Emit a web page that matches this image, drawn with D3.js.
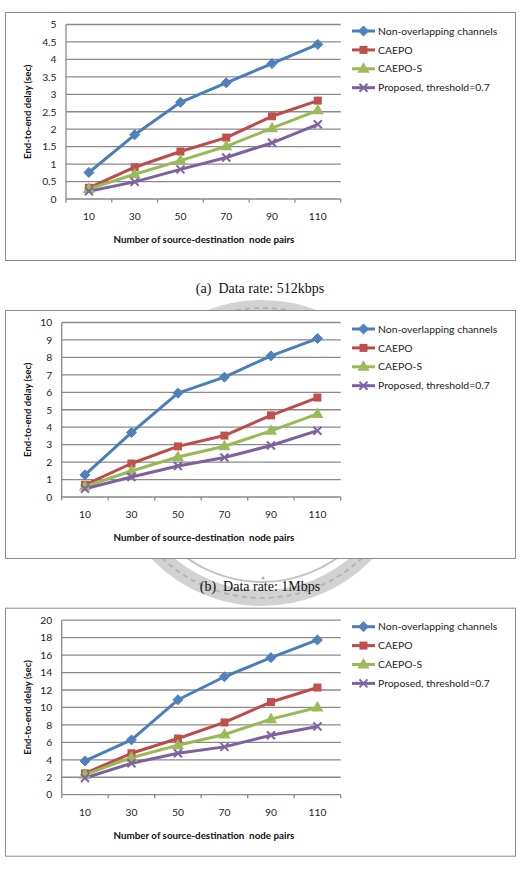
<!DOCTYPE html>
<html lang="en">
<head>
<meta charset="UTF-8">
<style>
  body { margin: 0; background: #fff; }
  svg text { font-family: Lato, "Liberation Sans", sans-serif; }
  .caption { font-family: "Liberation Serif", "DejaVu Serif", serif !important; }
</style>
<script src="https://d3js.org/d3.v7.min.js"></script>
<title>End-to-end delay</title>
</head>
<body>
<script>
// x categories: number of source-destination node pairs
const pairs = [10, 30, 50, 70, 90, 110];
const seriesNames = ["Non-overlapping channels", "CAEPO", "CAEPO-S", "Proposed, threshold=0.7"];

// (a) 512kbps
const nonOverlap512k = [0.76, 1.84, 2.77, 3.33, 3.88, 4.43];
const caepo512k      = [0.32, 0.91, 1.36, 1.76, 2.37, 2.82];
const caepoS512k     = [0.29, 0.71, 1.10, 1.51, 2.03, 2.54];
const proposed512k   = [0.22, 0.49, 0.85, 1.19, 1.61, 2.14];
const yTicks512k = [0, 0.5, 1, 1.5, 2, 2.5, 3, 3.5, 4, 4.5, 5];

// (b) 1Mbps
const nonOverlap1M = [1.27, 3.69, 5.95, 6.87, 8.09, 9.08];
const caepo1M      = [0.70, 1.92, 2.90, 3.52, 4.68, 5.70];
const caepoS1M     = [0.60, 1.49, 2.29, 2.91, 3.79, 4.76];
const proposed1M   = [0.47, 1.15, 1.78, 2.26, 2.95, 3.80];
const yTicks1M = [0, 1, 2, 3, 4, 5, 6, 7, 8, 9, 10];

// (c) highest rate
const nonOverlapC = [3.87, 6.28, 10.88, 13.52, 15.71, 17.74];
const caepoC      = [2.45, 4.75, 6.44, 8.28, 10.62, 12.28];
const caepoSC     = [2.30, 4.25, 5.67, 6.90, 8.66, 10.00];
const proposedC   = [1.92, 3.60, 4.75, 5.48, 6.82, 7.82];
const yTicksC = [0, 2, 4, 6, 8, 10, 12, 14, 16, 18, 20];

const colors = ["#4a7ebb", "#be4b48", "#98b954", "#7d60a0"];
const markerColors = ["#4f81bd", "#c0504d", "#9bbb59", "#8064a2"];

const panels = [
  { top: 12, left: 66, ticks: yTicks512k, max: 5, caption: "(a)  Data rate: 512kbps", captionY: 293,
    series: [nonOverlap512k, caepo512k, caepoS512k, proposed512k] },
  { top: 310, left: 61.7, ticks: yTicks1M, max: 10, caption: "(b)  Data rate: 1Mbps", captionY: 591,
    series: [nonOverlap1M, caepo1M, caepoS1M, proposed1M] },
  { top: 607.7, left: 61.7, ticks: yTicksC, max: 20, caption: null,
    series: [nonOverlapC, caepoC, caepoSC, proposedC] }
];

const W = 525, H = 873;
const svg = d3.select("body").append("svg")
  .attr("width", W).attr("height", H);

svg.append("rect").attr("width", W).attr("height", H).attr("fill", "#fff");

// faint university seal watermark behind panel (b) caption
const seal = svg.append("g").attr("opacity", 0.75);
seal.append("circle").attr("cx", 262).attr("cy", 453).attr("r", 145)
  .attr("fill", "none").attr("stroke", "#c4c4c4").attr("stroke-width", 16);
seal.append("circle").attr("cx", 262).attr("cy", 453).attr("r", 145)
  .attr("fill", "none").attr("stroke", "#9a9a9a").attr("stroke-width", 2)
  .attr("stroke-dasharray", "5 4");
seal.append("circle").attr("cx", 262).attr("cy", 453).attr("r", 129)
  .attr("fill", "none").attr("stroke", "#b0b0b0").attr("stroke-width", 2);
seal.append("circle").attr("cx", 263).attr("cy", 578).attr("r", 1.5).attr("fill", "#999");

function marker(g, i, cx, cy) {
  const c = markerColors[i];
  if (i === 0) {
    g.append("path").attr("d", d3.symbol(d3.symbolDiamond2, 64)())
      .attr("transform", `translate(${cx},${cy})`).attr("fill", c).attr("stroke", c).attr("stroke-width", 1);
  } else if (i === 1) {
    g.append("path").attr("d", d3.symbol(d3.symbolSquare, 64)())
      .attr("transform", `translate(${cx},${cy})`).attr("fill", c);
  } else if (i === 2) {
    g.append("path").attr("d", d3.symbol(d3.symbolTriangle, 64)())
      .attr("transform", `translate(${cx},${cy + 0.5})`).attr("fill", c);
  } else {
    g.append("path").attr("d", "M-4,-4L4,4M-4,4L4,-4")
      .attr("transform", `translate(${cx},${cy})`).attr("stroke", c).attr("stroke-width", 2).attr("fill", "none");
  }
}

panels.forEach(p => {
  const g = svg.append("g");
  const frameH = 248;
  g.append("rect").attr("x", 5.5).attr("y", p.top + 0.5).attr("width", 510).attr("height", frameH)
    .attr("fill", "#fff").attr("stroke", "#8c8c8c").attr("stroke-width", 1);

  const plotTop = p.top + 12.5, plotBottom = p.top + 187, plotRight = 340.7;
  const x = d3.scaleBand().domain(pairs).range([p.left, plotRight]);
  const y = d3.scaleLinear().domain([0, p.max]).range([plotBottom, plotTop]);

  // gridlines
  g.append("g").selectAll("line").data(p.ticks).join("line")
    .attr("x1", p.left).attr("x2", plotRight)
    .attr("y1", d => y(d)).attr("y2", d => y(d))
    .attr("stroke", "#8a8a8a").attr("stroke-width", 1.3);
  // left axis line
  g.append("line").attr("x1", p.left).attr("x2", p.left).attr("y1", plotTop).attr("y2", plotBottom)
    .attr("stroke", "#8a8a8a").attr("stroke-width", 1.3);
  // x tick marks at category boundaries
  const edges = pairs.map(d => x(d)).concat([plotRight]);
  g.append("g").selectAll("line").data(edges).join("line")
    .attr("x1", d => d).attr("x2", d => d).attr("y1", plotBottom).attr("y2", plotBottom + 3.5)
    .attr("stroke", "#8a8a8a").attr("stroke-width", 1.3);

  // y axis labels
  const ya = g.append("g").attr("transform", `translate(${p.left},0)`)
    .call(d3.axisLeft(y).tickValues(p.ticks).tickSize(0).tickPadding(9.5).tickFormat(d => String(d)));
  ya.select(".domain").remove();
  ya.selectAll("text").attr("font-size", 10.3).attr("fill", "#222").attr("font-family", "Lato, sans-serif");

  // x axis labels
  const xa = g.append("g").attr("transform", `translate(0,${p.top + 204.7})`)
    .call(d3.axisBottom(x).tickSize(0).tickPadding(0));
  xa.select(".domain").remove();
  xa.selectAll("text").attr("font-size", 10.3).attr("fill", "#222").attr("dy", "0.35em")
    .attr("font-family", "Lato, sans-serif");

  // axis titles
  g.append("text").attr("x", 204).attr("y", p.top + 227.5).attr("dy", "0.35em")
    .attr("text-anchor", "middle").attr("font-size", 9.8).attr("font-weight", "bold")
    .attr("fill", "#111").style("white-space", "pre")
    .text("Number of source-destination  node pairs");
  g.append("text").attr("transform", `translate(28,${(plotTop + plotBottom) / 2}) rotate(-90)`)
    .attr("dy", "0.35em").attr("text-anchor", "middle").attr("font-size", 9.6)
    .attr("font-weight", "bold").attr("fill", "#111")
    .text("End-to-end delay (sec)");

  // series
  const cx = d => x(d) + x.bandwidth() / 2;
  p.series.forEach((vals, i) => {
    const line = d3.line().x((d, k) => cx(pairs[k])).y(d => y(d));
    g.append("path").datum(vals).attr("d", line)
      .attr("fill", "none").attr("stroke", colors[i]).attr("stroke-width", 3)
      .attr("stroke-linejoin", "round");
  });
  p.series.forEach((vals, i) => {
    vals.forEach((v, k) => marker(g, i, cx(pairs[k]), y(v)));
  });

  // legend
  seriesNames.forEach((name, i) => {
    const ly = p.top + 19 + i * 18.9;
    g.append("line").attr("x1", 352).attr("x2", 375).attr("y1", ly).attr("y2", ly)
      .attr("stroke", colors[i]).attr("stroke-width", 3);
    marker(g, i, 363.5, ly);
    g.append("text").attr("x", 378).attr("y", ly).attr("dy", "0.35em")
      .attr("font-size", 10.4).attr("fill", "#222").text(name);
  });

  if (p.caption) {
    svg.append("text").attr("class", "caption").attr("x", 260).attr("y", p.captionY)
      .attr("text-anchor", "middle").attr("font-size", 14).attr("fill", "#111")
      .style("white-space", "pre").text(p.caption);
  }
});
</script>
</body>
</html>
